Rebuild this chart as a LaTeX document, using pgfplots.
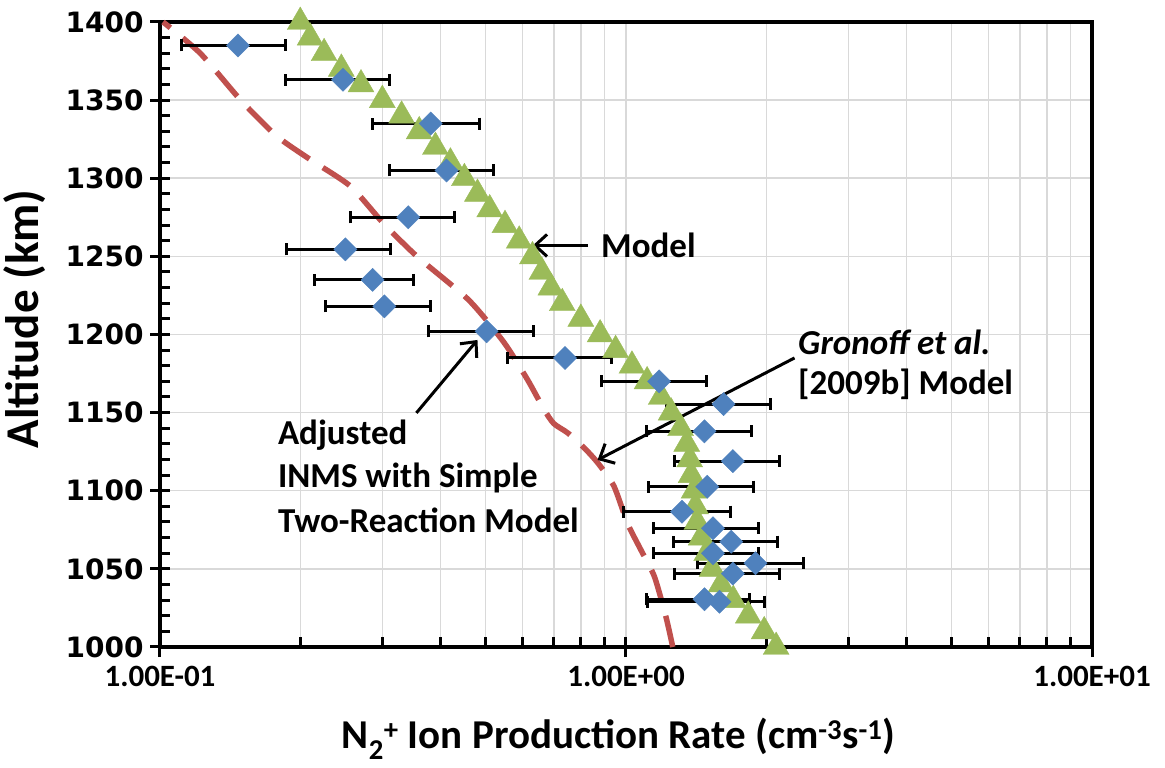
\documentclass[border=0pt]{standalone}
\usepackage{fontspec}
\setmainfont{Carlito}
\newfontfamily\ytickfont{DejaVu Sans}
\usepackage{pgfplots}
\usepackage{pgfplotstable}
\pgfplotsset{compat=1.18}
\usetikzlibrary{arrows.meta}

\definecolor{inmsblue}{HTML}{4F81BD}
\definecolor{modelgreen}{HTML}{9BBB59}
\definecolor{gronred}{HTML}{C0504D}
\definecolor{gridgray}{HTML}{D9D9D9}

% INMS data: value, altitude, left and right end of error bar
\pgfplotstableread{
x     y       xl     xr
0.147 1385    0.111  0.186
0.247 1363    0.186  0.311
0.381 1335    0.286  0.484
0.412 1305    0.311  0.519
0.341 1275    0.256  0.429
0.250 1254.5  0.187  0.312
0.286 1235    0.215  0.350
0.303 1218    0.226  0.381
0.502 1202    0.376  0.632
0.740 1185    0.557  0.933
1.178 1170    0.884  1.486
1.620 1155.5  1.219  2.040
1.474 1138    1.104  1.857
1.696 1119    1.270  2.130
1.494 1102.6  1.119  1.879
1.319 1086.6  0.989  1.674
1.537 1076    1.147  1.925
1.682 1067.4  1.266  2.112
1.537 1060    1.147  1.925
1.897 1053.6  1.426  2.399
1.696 1047    1.270  2.130
1.474 1030.5  1.104  1.840
1.587 1029    1.113  1.984
}\inms

% model curve
\pgfplotstableread{
x     y
2.10  1000
1.98  1010
1.83  1020
1.70  1030
1.60  1040
1.53  1050
1.49  1060
1.45  1070
1.42  1080
1.41  1090
1.40  1100
1.38  1110
1.37  1120
1.35  1130
1.31  1140
1.25  1150
1.19  1160
1.11  1170
1.03  1180
0.95  1190
0.88  1200
0.80  1210
0.73  1220
0.69  1230
0.66  1240
0.63  1250
0.59  1260
0.55  1270
0.51  1280
0.48  1290
0.45  1300
0.42  1310
0.39  1320
0.36  1330
0.33  1340
0.30  1350
0.27  1360
0.245 1370
0.225 1380
0.21  1390
0.20  1400
}\model

% Gronoff et al. [2009b]
\pgfplotstableread{
x      y
1.26   1000
1.219  1019
1.151  1045
1.077  1062
1.008  1079
0.942  1103
0.869  1118
0.810  1128
0.750  1137
0.700  1143
0.667  1152
0.615  1171
0.547  1195
0.460  1222
0.356  1250
0.302  1271
0.256  1295
0.210  1312
0.178  1327
0.149  1350
0.122  1380
0.1015 1400
}\gronoff

\begin{document}
\begin{tikzpicture}
\begin{axis}[
    scale only axis,
    width=932pt, height=625pt,
    xmode=log, log basis x=10,
    xmin=0.1, xmax=10, ymin=1000, ymax=1400,
    xtick={0.1,1,10},
    xticklabels={1.00E-01,1.00E+00,1.00E+01},
    minor xtick={0.2,0.3,0.4,0.5,0.6,0.7,0.8,0.9,2,3,4,5,6,7,8,9},
    ytick={1000,1050,1100,1150,1200,1250,1300,1350,1400},
    yticklabels={1000,1050,1100,1150,1200,1250,1300,1350,1400},
    minor y tick num=4,
    xtick pos=left, ytick pos=left,
    xmajorgrids, xminorgrids, ymajorgrids,
    grid style={gridgray, line width=1.5pt},
    minor grid style={gridgray, line width=1.5pt},
    axis line style={line width=4pt},
    tick style={black, line width=3pt},
    tick align=center,
    major tick length=20pt, minor tick length=10pt,
    every minor x tick/.append style={yshift=5pt},
    every minor y tick/.append style={xshift=5pt},
    xticklabel style={font=\fontsize{31}{36}\selectfont\bfseries, yshift=-6pt},
    yticklabel style={font=\ytickfont\fontsize{28}{32}\selectfont\bfseries, xshift=-3pt},
    clip=false,
]
\addplot[gronred, line width=5.5pt, dash pattern=on 32pt off 16pt, smooth, tension=0.4]
    table[x=x, y=y] {\gronoff};
\addplot[only marks, mark=triangle*, mark size=15pt,
    mark options={fill=modelgreen, draw=modelgreen}]
    table[x=x, y=y] {\model};
\addplot[only marks, mark=square*, mark size=8.2pt,
    mark options={fill=inmsblue, draw=inmsblue, rotate=45},
    error bars/.cd, x dir=both, x explicit,
    error bar style={black, line width=3pt},
    error mark=|,
    error mark options={black, line width=3pt, mark size=6pt}]
    table[x=x, y=y,
          x error plus expr=\thisrow{xr}-\thisrow{x},
          x error minus expr=\thisrow{x}-\thisrow{xl}] {\inms};

% annotations
\draw[line width=3pt, -{Straight Barb[length=12pt, width=22pt]}]
    (axis cs:0.829,1257) -- (axis cs:0.631,1257);
\node[anchor=west, inner sep=0pt, font=\fontsize{35}{42}\selectfont\bfseries]
    at (axis cs:0.884,1257) {Model};

\draw[line width=3pt, -{Straight Barb[length=12pt, width=22pt]}]
    (axis cs:2.30,1185) -- (axis cs:0.869,1119.7);
\node[anchor=west, inner sep=0pt, font=\fontsize{35}{42}\selectfont\bfseries\itshape]
    at (axis cs:2.34,1195) {Gronoff et al.};
\node[anchor=west, inner sep=0pt, font=\fontsize{35}{42}\selectfont\bfseries]
    at (axis cs:2.34,1168) {[2009b] Model};

\draw[line width=3pt, -{Straight Barb[length=12pt, width=22pt]}]
    (axis cs:0.355,1149.8) -- (axis cs:0.480,1196.5);
\node[anchor=west, inner sep=0pt, font=\fontsize{35}{42}\selectfont\bfseries]
    at (axis cs:0.179,1135.7) {Adjusted};
\node[anchor=west, inner sep=0pt, font=\fontsize{35}{42}\selectfont\bfseries]
    at (axis cs:0.179,1108) {INMS with Simple};
\node[anchor=west, inner sep=0pt, font=\fontsize{35}{42}\selectfont\bfseries]
    at (axis cs:0.179,1081.3) {Two-Reaction Model};

% axis titles
\node[font=\fontsize{41}{50}\selectfont\bfseries]
    at (rel axis cs:0.492,-0.147)
    {N\textsubscript{2}\textsuperscript{+} Ion Production Rate (cm\textsuperscript{-3}s\textsuperscript{-1})};
\node[rotate=90, font=\fontsize{47}{56}\selectfont\bfseries]
    at (rel axis cs:-0.145,0.525) {Altitude (km)};
\end{axis}
\pgfresetboundingbox
\path (-160pt,-121pt) rectangle (1005pt,647pt);
\end{tikzpicture}
\end{document}
